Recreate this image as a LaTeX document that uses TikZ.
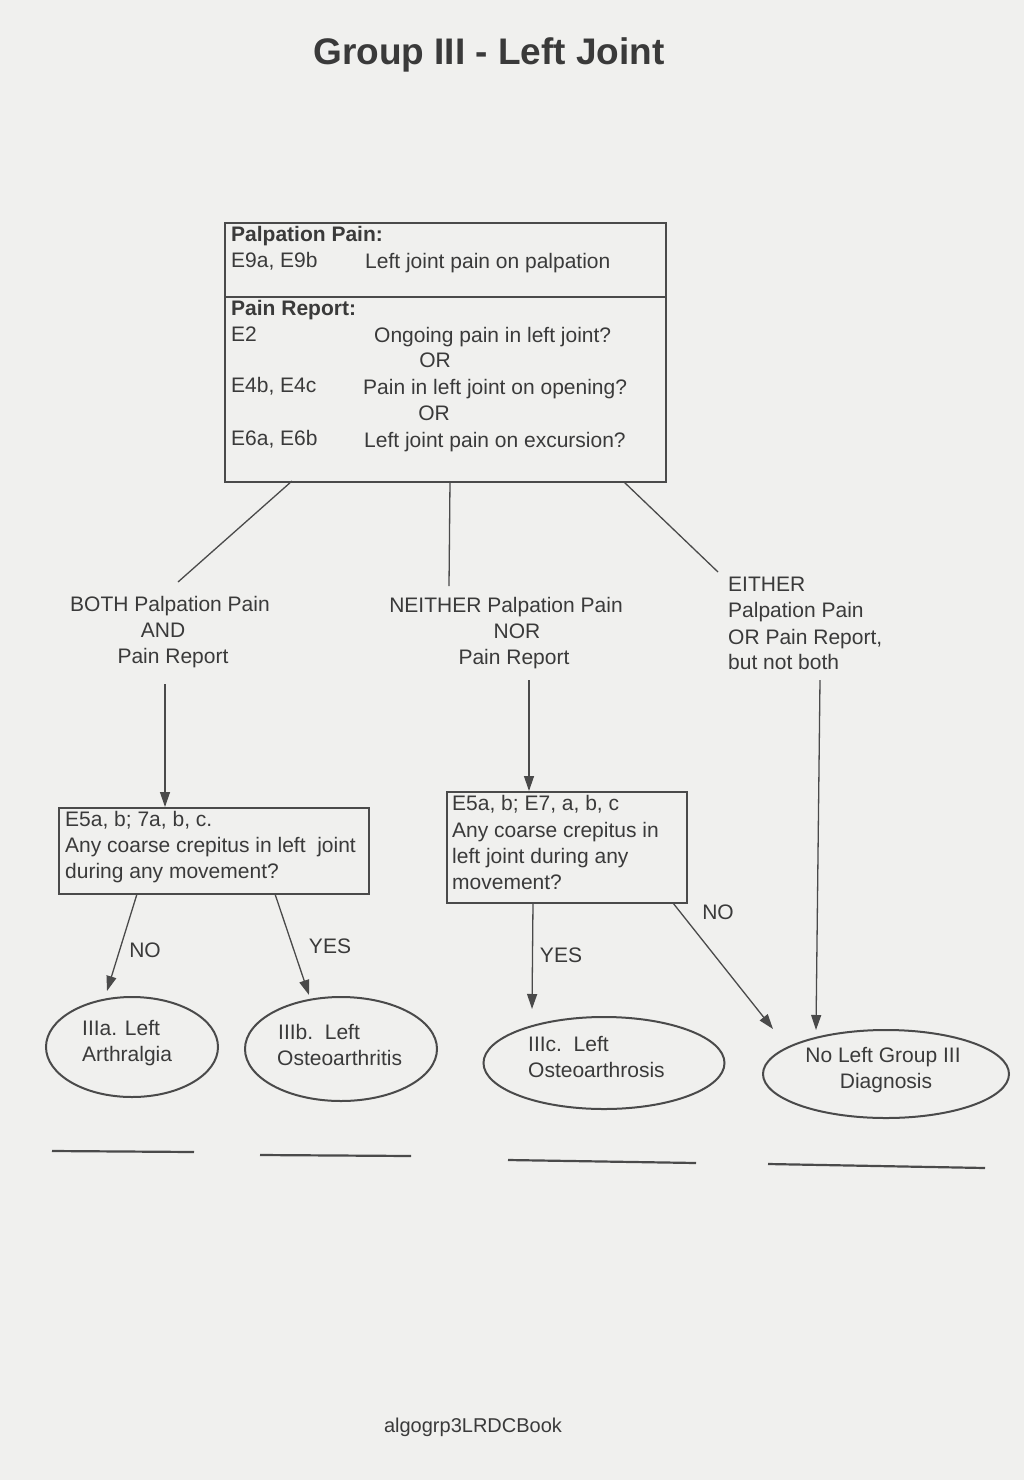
\documentclass[tikz,border=0pt]{standalone}
\usepackage{fontspec}
\setmainfont{Liberation Sans}
\usetikzlibrary{shapes.geometric,arrows.meta}
\definecolor{ink}{HTML}{3A3A3A}
\definecolor{paper}{HTML}{F0F0EE}
\definecolor{lin}{HTML}{4A4A4A}
\tikzset{
  txt/.style={inner sep=0pt, text=ink, font=\fontsize{21}{25}\selectfont},
  one/.style={txt, text height=15pt, text depth=4.5pt},
  lt/.style={one, anchor=west},
  boxline/.style={draw=lin, line width=2pt},
  conn/.style={draw=lin, line width=1.3pt},
  arr/.style={conn, -{Triangle[length=15pt,width=10pt,fill=lin]}},
  ell/.style={ellipse, draw=lin, line width=2pt, inner sep=0pt},
  rule/.style={draw=lin, line width=2.2pt},
}
\begin{document}
\begin{tikzpicture}[x=1pt,y=-1pt]
\fill[paper] (0,0) rectangle (1024,1480);
\useasboundingbox (0,0) rectangle (1024,1480);

% title
\node[txt, font=\fontsize{37}{42}\selectfont\bfseries, text=ink] (title) at (489,55) {Group III - Left Joint};

% top box
\node[boxline, minimum width=441pt, minimum height=259pt, inner sep=0pt, anchor=north west] (top) at (224,222) {};
\draw[boxline] (top.west |- 0,297) coordinate (dl) -- (top.east |- 0,297) coordinate (dr);
\node[lt, font=\fontsize{21}{25}\selectfont\bfseries] (pp) at (231,236) {Palpation Pain:};
\node[lt] (e9) at (231,262) {E9a, E9b};
\node[lt] (e9t) at (365,263) {Left joint pain on palpation};
\node[lt, font=\fontsize{21}{25}\selectfont\bfseries] (pr) at (231,310) {Pain Report:};
\node[lt] (e2) at (231,336) {E2};
\node[lt] (e2t) at (374,337) {Ongoing pain in left joint?};
\node[one] (or1) at (435,362) {OR};
\node[lt] (e4) at (231,387) {E4b, E4c};
\node[lt] (e4t) at (363,389) {Pain in left joint on opening?};
\node[one] (or2) at (434,415) {OR};
\node[lt] (e6) at (231,440) {E6a, E6b};
\node[lt] (e6t) at (364,442) {Left joint pain on excursion?};

% branch labels
\node[one] (both) at (170,606) {BOTH Palpation Pain};
\node[one] (bothand) at (163,632) {AND};
\node[one] (bothpr) at (173,658) {Pain Report};
\node[one] (neither) at (506,607) {NEITHER Palpation Pain};
\node[one] (neinor) at (517,633) {NOR};
\node[one] (neipr) at (514,659) {Pain Report};
\node[lt] (either1) at (728,586) {EITHER};
\node[lt] (either2) at (728,612) {Palpation Pain};
\node[lt] (either3) at (728,639) {OR Pain Report,};
\node[lt] (either4) at (728,664) {but not both};

% lines from top box
\coordinate (t1) at (292,481);
\coordinate (b1) at (178,582);
\coordinate (t2) at (450,481);
\coordinate (b2) at (449,586);
\coordinate (t3) at (624,482);
\coordinate (b3) at (718,572);
\draw[conn] (t1) -- (b1);
\draw[conn] (t2) -- (b2);
\draw[conn] (t3) -- (b3);

% boxes 2 and 3
\node[boxline, minimum width=310pt, minimum height=86pt, inner sep=0pt, anchor=north west] (q1) at (58,807) {};
\node[lt] (q1a) at (65,821) {E5a, b; 7a, b, c.};
\node[lt] (q1b) at (65,847) {Any coarse crepitus in left\ \ joint};
\node[lt] (q1c) at (65,873) {during any movement?};

\node[boxline, minimum width=240pt, minimum height=111pt, inner sep=0pt, anchor=north west] (q2) at (446,791) {};
\node[lt] (q2a) at (452,805) {E5a, b; E7, a, b, c};
\node[lt] (q2b) at (452,832) {Any coarse crepitus in};
\node[lt] (q2c) at (452,858) {left joint during any};
\node[lt] (q2d) at (452,884) {movement?};

% arrows to boxes
\coordinate (a1s) at (165,684);
\coordinate (a2s) at (529,680);
\coordinate (a3s) at (820,680);
\draw[arr] (a1s) -- (q1.north -| a1s);
\draw[arr] (a2s) -- (q2.north -| a2s);

% ellipses
\node[ell, minimum width=172pt, minimum height=100pt] (d1) at (132,1047) {};
\node[lt] (d1a) at (82,1030) {IIIa. Left};
\node[lt] (d1b) at (82,1056) {Arthralgia};
\node[ell, minimum width=192pt, minimum height=104pt] (d2) at (341,1049) {};
\node[lt] (d2a) at (278,1034) {IIIb.\ \ Left};
\node[lt] (d2b) at (277,1060) {Osteoarthritis};
\node[ell, minimum width=241pt, minimum height=92pt] (d3) at (604,1063) {};
\node[lt] (d3a) at (528,1046) {IIIc.\ \ Left};
\node[lt] (d3b) at (528,1072) {Osteoarthrosis};
\node[ell, minimum width=246pt, minimum height=88pt] (d4) at (886,1074) {};
\node[one] (d4a) at (883,1057) {No Left Group III};
\node[one] (d4b) at (886,1083) {Diagnosis};

% arrows from boxes to diagnoses
\coordinate (n1s) at (137,894);
\coordinate (n1e) at (107,991);
\coordinate (y1s) at (275,894);
\coordinate (y1e) at (309,995);
\coordinate (y2s) at (533,903);
\coordinate (y2e) at (532,1009);
\coordinate (n2s) at (673,903);
\coordinate (n2e) at (773,1029);
\coordinate (a3e) at (816,1030);
\draw[arr] (n1s) -- (n1e);
\draw[arr] (y1s) -- (y1e);
\draw[arr] (y2s) -- (y2e);
\draw[arr] (n2s) -- (n2e);
\draw[arr] (a3s) -- (a3e);

\node[one] (lno1) at (145,952) {NO};
\node[one] (lyes1) at (330,948) {YES};
\node[one] (lyes2) at (561,957) {YES};
\node[one] (lno2) at (718,914) {NO};

% blank lines
\coordinate (r1a) at (52,1151); \coordinate (r1b) at (194,1152);
\coordinate (r2a) at (260,1155); \coordinate (r2b) at (411,1156);
\coordinate (r3a) at (508,1160); \coordinate (r3b) at (696,1163);
\coordinate (r4a) at (768,1164); \coordinate (r4b) at (985,1168);
\draw[rule] (r1a) -- (r1b);
\draw[rule] (r2a) -- (r2b);
\draw[rule] (r3a) -- (r3b);
\draw[rule] (r4a) -- (r4b);

% footer
\node[one, font=\fontsize{20}{24}\selectfont] (foot) at (473,1427) {algogrp3LRDCBook};
\end{tikzpicture}
\end{document}
